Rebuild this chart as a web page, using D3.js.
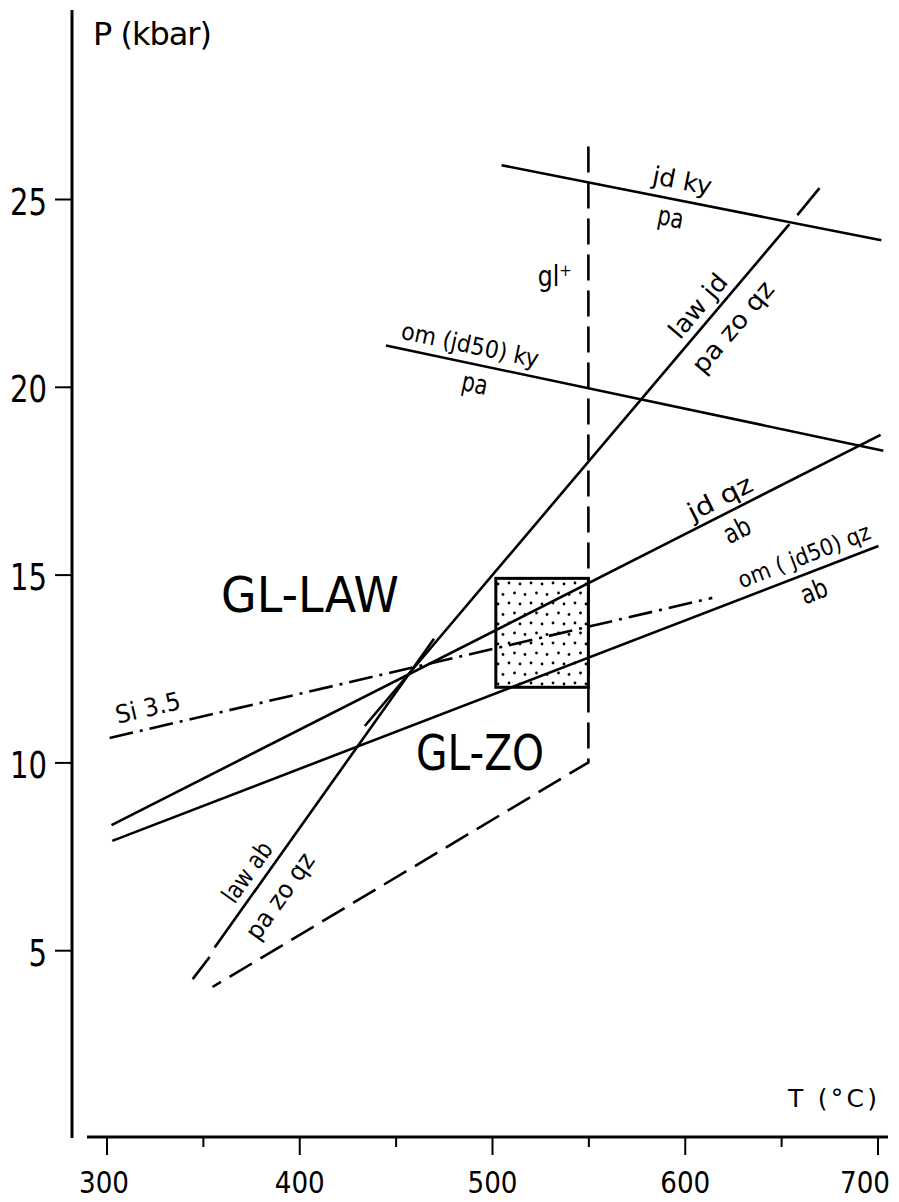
<!DOCTYPE html>
<html>
<head>
<meta charset="utf-8">
<script src="https://cdn.jsdelivr.net/npm/d3@7"></script>
<style>
  html, body { margin: 0; padding: 0; background: #fff; }
  svg { display: block; }
  text { font-family: "DejaVu Sans", sans-serif; fill: #000; }
</style>
</head>
<body>
<svg width="899" height="1202"></svg>
<script>
// ---- Dados (T em °C, P em kbar)
const xTicks = [300, 350, 400, 450, 500, 550, 600, 650, 700];
const yTicks = [5, 10, 15, 20, 25];

const jdKyPa = [[505, 25.9], [702, 23.9]];
const omKyPa = [[445, 21.1], [703, 18.3]];
const jdQzAb = [[302.6, 8.33], [701.6, 18.72]];
const omQzAb = [[303, 7.91], [700.5, 15.76]];
const si35 = [[301.6, 10.65], [614.3, 14.38]];
const lawAbDash = [[344.7, 4.23], [353.5, 4.82]];
const lawAb = [[356.1, 5.07], [469.9, 13.29]];
const lawJd = [[434, 10.97], [654.3, 24.33]];
const lawJdExt = [[658.4, 24.57], [669.9, 25.29]];
const glBoundary = [[550, 26.4], [550, 10], [355, 4.02]];
const boxT = [502, 550];
const boxP = [12.0, 14.9];

const svg = d3.select('svg');

// ---- Escalas
const x = d3.scaleLinear().domain([300, 700]).range([106.5, 877.5]);
const y = d3.scaleLinear().domain([0, 25]).range([1138, 199]);

const line = d3.line().x(d => x(d[0])).y(d => y(d[1]));

// ---- Padrão pontilhado da caixa
const defs = svg.append('defs');
const pat = defs.append('pattern')
    .attr('id', 'stipple')
    .attr('patternUnits', 'userSpaceOnUse')
    .attr('width', 22).attr('height', 20);
[[3, 3], [14, 4], [8.5, 13], [19, 14.5]].forEach(([cx, cy]) => {
    pat.append('circle').attr('cx', cx).attr('cy', cy).attr('r', 1.4).attr('fill', '#000');
});

// ---- Eixos
svg.append('line')
    .attr('x1', 72).attr('x2', 72).attr('y1', 10).attr('y2', 1138)
    .attr('stroke', '#000').attr('stroke-width', 3);
svg.append('line')
    .attr('x1', 87).attr('x2', 888).attr('y1', 1137).attr('y2', 1137)
    .attr('stroke', '#000').attr('stroke-width', 3);

const xAxis = d3.axisBottom(x)
    .tickValues(xTicks)
    .tickSize(18)
    .tickSizeOuter(0)
    .tickFormat(d => d % 100 === 0 ? d : '');
const gx = svg.append('g')
    .attr('transform', 'translate(0,1138)')
    .call(xAxis);
gx.select('.domain').remove();
gx.selectAll('.tick line')
    .attr('stroke-width', 2)
    .attr('y2', d => d % 100 === 0 ? 17 : 9);
gx.selectAll('.tick text')
    .attr('y', 55)
    .attr('dy', null)
    .attr('dx', d => d === 700 ? -13 : (d === 300 ? -3 : 0))
    .attr('textLength', d => d % 100 === 0 ? 50 : null)
    .attr('lengthAdjust', 'spacingAndGlyphs')
    .style('font-size', '31px');

const yAxis = d3.axisLeft(y)
    .tickValues(yTicks)
    .tickSize(17)
    .tickSizeOuter(0);
const gy = svg.append('g')
    .attr('transform', 'translate(72,0)')
    .call(yAxis);
gy.select('.domain').remove();
gy.selectAll('.tick line').attr('stroke-width', 2);
gy.selectAll('.tick text')
    .attr('x', -25)
    .attr('dy', 15)
    .attr('textLength', d => String(d).length * 18.5)
    .attr('lengthAdjust', 'spacingAndGlyphs')
    .style('font-size', '37px');

svg.append('text').attr('x', 93).attr('y', 45)
    .attr('textLength', 119).attr('lengthAdjust', 'spacing')
    .style('font-size', '32px').text('P (kbar)');
svg.append('text').attr('x', 788).attr('y', 1107)
    .attr('textLength', 89).attr('lengthAdjust', 'spacing')
    .style('font-size', '25px').text('T (°C)');

// ---- Caixa pontilhada
svg.append('rect')
    .attr('x', x(boxT[0])).attr('y', y(boxP[1]))
    .attr('width', x(boxT[1]) - x(boxT[0]))
    .attr('height', y(boxP[0]) - y(boxP[1]))
    .attr('fill', 'url(#stipple)')
    .attr('stroke', '#000').attr('stroke-width', 3);

// ---- Curvas
const curves = [
    { pts: jdKyPa, dash: null },
    { pts: omKyPa, dash: null },
    { pts: jdQzAb, dash: null },
    { pts: omQzAb, dash: null },
    { pts: lawAb, dash: null },
    { pts: lawAbDash, dash: null },
    { pts: lawJd, dash: null },
    { pts: lawJdExt, dash: null },
    { pts: si35, dash: '24,7,3,7' },
    { pts: glBoundary, dash: '26,10' }
];
svg.selectAll('path.curve')
    .data(curves)
    .join('path')
    .attr('class', 'curve')
    .attr('d', d => line(d.pts))
    .attr('fill', 'none')
    .attr('stroke', '#000')
    .attr('stroke-width', 2.6)
    .attr('stroke-dasharray', d => d.dash);

// ---- Rótulos (posição em T,P; ângulo segue a curva)
function angleOf(pts) {
    const a = pts[0], b = pts[pts.length - 1];
    return Math.atan2(y(b[1]) - y(a[1]), x(b[0]) - x(a[0])) * 180 / Math.PI;
}
const labels = [
    { t: 'jd  ky', T: 598.7, P: 25.48, along: jdKyPa, size: 25, len: 60 },
    { t: 'pa', T: 592.8, P: 24.52, along: jdKyPa, size: 27, len: 26 },
    { t: 'gl⁺', T: 532.6, P: 22.95, along: null, size: 29, len: 34 },
    { t: 'om (jd50) ky', T: 488.6, P: 21.11, along: omKyPa, size: 24, len: 140 },
    { t: 'pa', T: 491.2, P: 20.1, along: omKyPa, size: 27, len: 26 },
    { t: 'law  jd', T: 606.9, P: 22.15, along: lawJd, size: 25, len: 76 },
    { t: 'pa  zo  qz', T: 625, P: 21.59, along: lawJd, size: 25, len: 112 },
    { t: 'jd  qz', T: 618.3, P: 17.04, along: jdQzAb, size: 25, len: 70 },
    { t: 'ab', T: 627, P: 16.19, along: jdQzAb, size: 27, len: 27 },
    { t: 'om ( jd50)  qz', T: 661.9, P: 15.5, along: omQzAb, size: 23, len: 140 },
    { t: 'ab', T: 667, P: 14.56, along: omQzAb, size: 27, len: 27 },
    { t: 'Si 3.5', T: 321.5, P: 11.45, along: si35, size: 25, len: 66 },
    { t: 'law ab', T: 373, P: 7.08, along: lawAb, size: 25, len: 68 },
    { t: 'pa  zo  qz', T: 390, P: 6.44, along: lawAb, size: 25, len: 100 },
    { t: 'GL-LAW', T: 405.6, P: 14.46, along: null, size: 50, len: 178 },
    { t: 'GL-ZO', T: 493.8, P: 10.25, along: null, size: 50, len: 128 }
];
svg.selectAll('text.lbl')
    .data(labels)
    .join('text')
    .attr('class', 'lbl')
    .attr('text-anchor', 'middle')
    .attr('dominant-baseline', 'central')
    .attr('textLength', d => d.len)
    .attr('lengthAdjust', 'spacingAndGlyphs')
    .attr('transform', d => `translate(${x(d.T)},${y(d.P)}) rotate(${d.along ? angleOf(d.along) : 0})`)
    .style('font-size', d => d.size + 'px')
    .text(d => d.t);
</script>
</body>
</html>
